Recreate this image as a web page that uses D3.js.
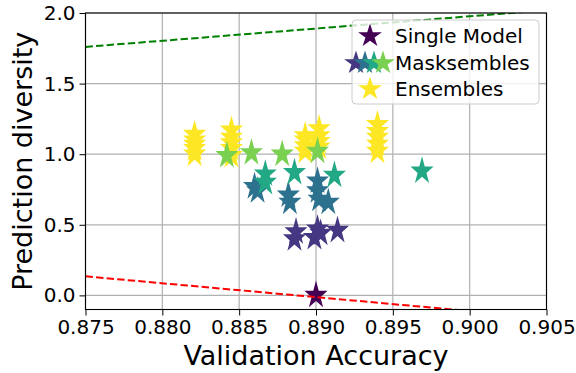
<!DOCTYPE html>
<html>
<head>
<meta charset="utf-8">
<script src="https://cdn.jsdelivr.net/npm/d3@7"></script>
<style>
  body { margin: 0; background: #fff; }
  text { font-family: "DejaVu Sans", sans-serif; }
</style>
</head>
<body>
<div id="chart"></div>
<script>
// ---- data ----
const xTicks = [0.875, 0.880, 0.885, 0.890, 0.895, 0.900, 0.905];
const yTicks = [0.0, 0.5, 1.0, 1.5, 2.0];

const singleX = [0.8900];
const singleY = [0.00];

// masksembles, one group per colour (viridis steps)
const maskColors = ["#453781", "#2c728e", "#22a884", "#7ad151"];
const maskDarkX = [0.8886, 0.8887, 0.8899, 0.8903, 0.8914, 0.8901];
const maskDarkY = [0.40, 0.45, 0.41, 0.44, 0.46, 0.47];
const maskBlueX = [0.8860, 0.8862, 0.8882, 0.8883, 0.8901, 0.8901, 0.8902, 0.8908];
const maskBlueY = [0.77, 0.74, 0.71, 0.66, 0.81, 0.74, 0.68, 0.66];
const maskTealX = [0.8867, 0.8867, 0.8886, 0.8912, 0.8969];
const maskTealY = [0.86, 0.80, 0.87, 0.85, 0.88];
const maskGreenX = [0.8842, 0.8858, 0.8878, 0.8901];
const maskGreenY = [0.99, 1.01, 1.00, 1.02];

const ensX = [0.8821, 0.8821, 0.8821, 0.8821, 0.8821,
              0.8845, 0.8845, 0.8845, 0.8845, 0.8845,
              0.8893, 0.8893, 0.8893, 0.8893,
              0.8902, 0.8902, 0.8902, 0.8902,
              0.8940, 0.8940, 0.8940, 0.8940, 0.8940];
const ensY = [1.00, 1.04, 1.07, 1.10, 1.14,
              0.99, 1.04, 1.08, 1.12, 1.17,
              1.02, 1.06, 1.10, 1.13,
              1.05, 1.09, 1.13, 1.18,
              1.02, 1.07, 1.12, 1.16, 1.21];

// dashed reference lines, end points at the x limits
const redLineX = [0.875, 0.905];
const redLineY = [0.135, -0.16];
const greenLineX = [0.875, 0.905];
const greenLineY = [1.76, 2.02];

const legendLabels = ["Single Model", "Masksembles", "Ensembles"];

// ---- chart ----
const width = 576, height = 373;
const margin = { top: 13, left: 85.5, bottom: 63.5, right: 29.5 };
const w = width - margin.left - margin.right,
      h = height - margin.top - margin.bottom;

let svg = d3.select("#chart").append("svg")
            .attr("width", width)
            .attr("height", height);

let g = svg.append("g")
           .attr("transform", `translate(${margin.left}, ${margin.top})`);

let xScale = d3.scaleLinear().domain([0.875, 0.905]).range([0, w]);
let yScale = d3.scaleLinear().domain([-0.1, 2.0]).range([h, 0]);

svg.append("defs").append("clipPath")
   .attr("id", "plotclip")
   .append("rect")
   .attr("width", w).attr("height", h);

// grid
g.append("g").selectAll("line")
  .data(xTicks).enter().append("line")
  .attr("x1", d => xScale(d)).attr("x2", d => xScale(d))
  .attr("y1", 0).attr("y2", h)
  .attr("stroke", "#b0b0b0").attr("stroke-width", 1.2);

g.append("g").selectAll("line")
  .data(yTicks).enter().append("line")
  .attr("y1", d => yScale(d)).attr("y2", d => yScale(d))
  .attr("x1", 0).attr("x2", w)
  .attr("stroke", "#b0b0b0").attr("stroke-width", 1.2);

// plot markers come out a bit taller than wide (stacked runs)
const star = d3.symbol().type(d3.symbolStar).size(165);

function drawStars(xs, ys, color) {
  g.append("g").selectAll("path")
    .data(xs.map((x, i) => [x, ys[i]]))
    .enter().append("path")
    .attr("d", star)
    .attr("transform", d => `translate(${xScale(d[0])}, ${yScale(d[1])}) scale(1, 1.22)`)
    .attr("fill", color);
}

drawStars(ensX, ensY, "#fde725");
drawStars(singleX, singleY, "#440154");
drawStars(maskDarkX, maskDarkY, maskColors[0]);
drawStars(maskBlueX, maskBlueY, maskColors[1]);
drawStars(maskTealX, maskTealY, maskColors[2]);
drawStars(maskGreenX, maskGreenY, maskColors[3]);

let line = d3.line().x(d => xScale(d[0])).y(d => yScale(d[1]));

g.append("path")
  .datum(redLineX.map((x, i) => [x, redLineY[i]]))
  .attr("clip-path", "url(#plotclip)")
  .attr("d", line)
  .attr("fill", "none").attr("stroke", "#ff0000")
  .attr("stroke-width", 2).attr("stroke-dasharray", "7.4,3.2");

g.append("path")
  .datum(greenLineX.map((x, i) => [x, greenLineY[i]]))
  .attr("clip-path", "url(#plotclip)")
  .attr("d", line)
  .attr("fill", "none").attr("stroke", "#008000")
  .attr("stroke-width", 2).attr("stroke-dasharray", "7.4,3.2");

// axes
let xAxis = g.append("g")
  .attr("transform", `translate(0, ${h})`)
  .call(d3.axisBottom(xScale).tickValues(xTicks).tickFormat(d3.format(".3f"))
          .tickSize(6).tickPadding(4).tickSizeOuter(0));

let yAxis = g.append("g")
  .call(d3.axisLeft(yScale).tickValues(yTicks).tickFormat(d3.format(".1f"))
          .tickSize(6).tickPadding(4).tickSizeOuter(0));

[xAxis, yAxis].forEach(a => {
  a.select(".domain").remove();
  a.selectAll("text").style("font-size", "20px").attr("fill", "#000");
  a.selectAll("line").attr("stroke", "#000").attr("stroke-width", 1);
});

// frame
g.append("rect")
  .attr("width", w).attr("height", h)
  .attr("fill", "none").attr("stroke", "#000").attr("stroke-width", 1.1);

svg.append("text")
  .attr("x", margin.left + w / 2).attr("y", 365)
  .attr("text-anchor", "middle")
  .style("font-size", "27px")
  .text("Validation Accuracy");

svg.append("text")
  .attr("transform", `translate(32, ${margin.top + h / 2}) rotate(-90)`)
  .attr("text-anchor", "middle")
  .style("font-size", "27px")
  .text("Prediction diversity");

// legend
let legend = svg.append("g");
legend.append("rect")
  .attr("x", 352).attr("y", 20).attr("width", 187).attr("height", 84).attr("rx", 4)
  .attr("fill", "#fff").attr("fill-opacity", 0.8)
  .attr("stroke", "#cccccc").attr("stroke-width", 1);

const legendStar = d3.symbol().type(d3.symbolStar).size(175);
const rowY = [36, 63, 89];

legend.append("path").attr("d", legendStar)
  .attr("transform", `translate(370, ${rowY[0]})`).attr("fill", "#440154");

maskColors.forEach((c, i) => {
  legend.append("path").attr("d", legendStar)
    .attr("transform", `translate(${356 + i * 9}, ${rowY[1]})`).attr("fill", c);
});

legend.append("path").attr("d", legendStar)
  .attr("transform", `translate(370, ${rowY[2]})`).attr("fill", "#fde725");

legend.selectAll("text.lbl")
  .data(legendLabels).enter().append("text")
  .attr("class", "lbl")
  .attr("x", 395).attr("y", (d, i) => rowY[i])
  .attr("dy", "0.36em")
  .style("font-size", "20px")
  .text(d => d);
</script>
</body>
</html>
